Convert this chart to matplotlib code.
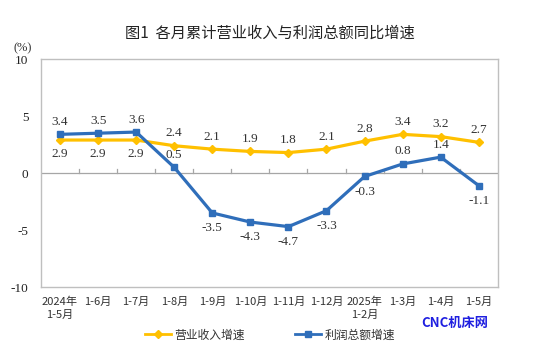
import matplotlib
matplotlib.use("Agg")
import matplotlib.pyplot as plt
from matplotlib.lines import Line2D

categories = ["2024年\n1-5月", "1-6月", "1-7月", "1-8月", "1-9月", "1-10月", "1-11月",
              "1-12月", "2025年\n1-2月", "1-3月", "1-4月", "1-5月"]
revenue = [2.9, 2.9, 2.9, 2.4, 2.1, 1.9, 1.8, 2.1, 2.8, 3.4, 3.2, 2.7]
profit = [3.4, 3.5, 3.6, 0.5, -3.5, -4.3, -4.7, -3.3, -0.3, 0.8, 1.4, -1.1]
rev_pos = ["b", "b", "b", "a", "a", "a", "a", "a", "a", "a", "a", "a"]
prof_pos = ["a", "a", "a", "a", "b", "b", "b", "b", "b", "a", "a", "b"]
yticks = [-10, -5, 0, 5, 10]

CJK = ["Noto Sans CJK SC", "DejaVu Sans"]
SERIF = ["Liberation Serif", "Noto Sans CJK SC"]
yellow = "#FFC000"
blue = "#2F6EBA"

fig = plt.figure(figsize=(5.49, 3.5), dpi=100)
ax = fig.add_axes([0.0747, 0.18, 0.832, 0.651])
x = list(range(len(categories)))

ax.plot(x, revenue, color=yellow, lw=2.3, marker="D", ms=4.5, zorder=3)
ax.plot(x, profit, color=blue, lw=2.3, marker="s", ms=4.5, zorder=4)

for xi, v, p in zip(x, revenue, rev_pos):
    dy = 9 if p == "a" else -10
    ax.annotate(f"{v:.1f}", (xi, v), xytext=(0, dy), textcoords="offset points",
                ha="center", va="center", fontsize=9.5, family=SERIF, color="#333333")
for xi, v, p in zip(x, profit, prof_pos):
    dy = 9 if p == "a" else -11
    ax.annotate(f"{v:.1f}", (xi, v), xytext=(0, dy), textcoords="offset points",
                ha="center", va="center", fontsize=9.5, family=SERIF, color="#333333")

ax.set_xlim(-0.5, len(categories) - 0.5)
ax.set_ylim(-10, 10)
ax.set_yticks(yticks)
ax.set_yticklabels([str(t) for t in yticks], family=SERIF, fontsize=9.5)
ax.tick_params(axis="y", length=0, pad=9)
ax.set_xticks(x)
ax.set_xticklabels(categories)
ax.tick_params(axis="x", length=0, pad=7)
for lab in ax.get_xticklabels():
    lab.set_fontfamily(["Noto Sans CJK SC", "DejaVu Sans"])
    lab.set_fontsize(8)
    lab.set_color("#333333")
    lab.set_linespacing(1.3)
for lab in ax.get_yticklabels():
    lab.set_ha("right")
    lab.set_color("#222222")

for s in ax.spines.values():
    s.set_color("#BFBFBF")
    s.set_linewidth(1.0)

ax.axhline(0, color="#A6A6A6", lw=0.9, zorder=1)
for b in range(1, len(categories)):
    ax.plot([b - 0.5, b - 0.5], [0, 0.4], color="#A6A6A6", lw=0.9, zorder=1)

fig.text(0.492, 0.905, "图1  各月累计营业收入与利润总额同比增速", ha="center", va="center",
         fontsize=11, family=CJK, color="#222222")
fig.text(0.042, 0.862, "(%)", ha="center", va="center", fontsize=9, family=SERIF, color="#333333")

handles = [Line2D([], [], color=yellow, lw=2, marker="D", ms=4),
           Line2D([], [], color=blue, lw=2, marker="s", ms=4)]
leg = fig.legend(handles, ["营业收入增速", "利润总额增速"], loc="center",
                 bbox_to_anchor=(0.492, 0.043), ncol=2, frameon=False,
                 prop={"family": CJK, "size": 8.5}, columnspacing=4.3, handlelength=2.2,
                 handletextpad=0.3)
for t in leg.get_texts():
    t.set_color("#333333")

fig.text(0.829, 0.077, "CNC机床网", ha="center", va="center", fontsize=9.5,
         family=CJK, color="#1F1FE0", fontweight="bold")

fig.savefig("out.png", dpi=100)
